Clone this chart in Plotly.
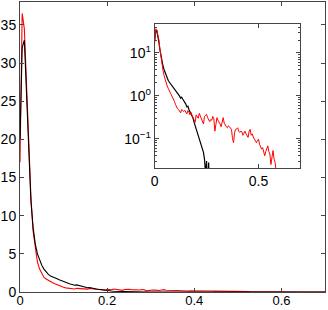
import numpy as np
import plotly.graph_objects as go

# bin positions (x), 0 to 0.7 in steps of 0.005
x_bins = np.round(np.arange(0, 0.7001, 0.005), 3)

red_values = [
    17.0, 36.5, 34.5, 27.0, 20.5, 12.5, 8.0, 5.9, 3.9, 3.0,
    2.35, 1.9, 1.7, 1.5, 1.35, 1.2, 1.08, 0.95, 0.85, 0.74,
    0.63, 0.54, 0.50, 0.48, 0.43, 0.40, 0.48, 0.44, 0.43, 0.46,
    0.40, 0.38, 0.45, 0.42, 0.36, 0.41, 0.35, 0.30, 0.27, 0.24,
    0.36, 0.32, 0.30, 0.39, 0.33, 0.30, 0.24, 0.22, 0.33, 0.36,
    0.37, 0.31, 0.28, 0.25, 0.28, 0.27, 0.33, 0.29, 0.15, 0.20,
    0.31, 0.27, 0.25, 0.22, 0.19, 0.27, 0.31, 0.23, 0.20, 0.19,
    0.18, 0.20, 0.19, 0.17, 0.165, 0.10, 0.081, 0.14, 0.165, 0.17,
    0.18, 0.15, 0.14, 0.15, 0.145, 0.12, 0.14, 0.15, 0.13, 0.12,
    0.107, 0.15, 0.165, 0.12, 0.13, 0.11, 0.098, 0.09, 0.081, 0.09,
    0.098, 0.074, 0.062, 0.057, 0.062, 0.05, 0.040, 0.05, 0.057, 0.068,
    0.05, 0.044, 0.025, 0.045, 0.053, 0.034, 0.028, 0.018, 0.012, 0.010,
    0.012, 0.008, 0.010, 0.007, 0.009, 0.006, 0.008, 0.005, 0.007, 0.006,
    0.005, 0.006, 0.004, 0.005, 0.004, 0.003, 0.004, 0.003, 0.002, 0.003,
    0.002,
]

black_values = [
    20.0, 32.0, 33.0, 26.0, 18.0, 12.0, 8.5, 6.3, 5.0, 4.1,
    3.5, 3.0, 2.6, 2.3, 2.1, 1.95, 1.85, 1.75, 1.62, 1.5,
    1.38, 1.22, 1.15, 1.06, 0.98, 0.88, 0.93, 0.84, 0.78, 0.70,
    0.64, 0.55, 0.57, 0.48, 0.43, 0.40, 0.35, 0.30, 0.24, 0.20,
    0.18, 0.15, 0.13, 0.10, 0.088, 0.07, 0.058, 0.048, 0.033, 0.015,
    0.03, 0.005, 0.028, 0.004, 0, 0, 0, 0, 0, 0,
    0, 0, 0, 0, 0, 0, 0, 0, 0, 0,
    0, 0, 0, 0, 0, 0, 0, 0, 0, 0,
    0, 0, 0, 0, 0, 0, 0, 0, 0, 0,
    0, 0, 0, 0, 0, 0, 0, 0, 0, 0,
    0, 0, 0, 0, 0, 0, 0, 0, 0, 0,
    0, 0, 0, 0, 0, 0, 0, 0, 0, 0,
    0, 0, 0, 0, 0, 0, 0, 0, 0, 0,
    0, 0, 0, 0, 0, 0, 0, 0, 0, 0,
    0,
]

main_xticks = [0, 0.2, 0.4, 0.6]
main_xticktext = ["0", "0.2", "0.4", "0.6"]
main_yticks = [0, 5, 10, 15, 20, 25, 30, 35]
inset_xticks = [0, 0.5]
inset_xticktext = ["0", "0.5"]
inset_yticks = [0.1, 1, 10]
inset_yticktext = ["10<sup>\u22121</sup>", "10<sup>0</sup>", "10<sup>1</sup>"]
inset_yminor = [0.03, 0.04, 0.05, 0.06, 0.07, 0.08, 0.09,
                0.2, 0.3, 0.4, 0.5, 0.6, 0.7, 0.8, 0.9,
                2, 3, 4, 5, 6, 7, 8, 9, 20, 30, 40]

assert len(red_values) == len(x_bins) == len(black_values)

# inset: log scale, drop non-positive values
red_log = [v if v > 0 else None for v in red_values]
black_log = [v if v > 0 else None for v in black_values]

fig = go.Figure()
fig.add_trace(go.Scatter(x=x_bins, y=red_values, mode="lines",
                         line=dict(color="#ff0000", width=1.1), xaxis="x", yaxis="y"))
fig.add_trace(go.Scatter(x=x_bins, y=black_values, mode="lines",
                         line=dict(color="#000000", width=1.1), xaxis="x", yaxis="y"))
fig.add_trace(go.Scatter(x=x_bins, y=black_log, mode="lines",
                         line=dict(color="#000000", width=1.2), xaxis="x2", yaxis="y2"))
fig.add_trace(go.Scatter(x=x_bins, y=red_log, mode="lines",
                         line=dict(color="#ff0000", width=1.0), xaxis="x2", yaxis="y2"))

axis_common = dict(showline=True, linecolor="#444444", linewidth=1, mirror="ticks",
                   ticks="inside", ticklen=4, tickcolor="#444444", showgrid=False,
                   zeroline=False, automargin=False)

fig.update_layout(
    width=328, height=310,
    margin=dict(l=20, r=3, t=2, b=18),
    paper_bgcolor="white", plot_bgcolor="white",
    showlegend=False,
    font=dict(family="Liberation Sans, Arial, sans-serif", size=14, color="black"),
    xaxis=dict(domain=[0, 1], range=[0, 0.7], tickmode="array",
               tickvals=main_xticks, ticktext=main_xticktext, anchor="y",
               ticklabelstandoff=-4, tickfont=dict(size=13, color="black"), **axis_common),
    yaxis=dict(domain=[0, 1], range=[0, 38], tickmode="array",
               tickvals=main_yticks, anchor="x",
               tickfont=dict(size=14, color="black"), **axis_common),
    xaxis2=dict(domain=[0.4416, 0.918], range=[0, 0.7], tickmode="array",
                tickvals=inset_xticks, ticktext=inset_xticktext, anchor="y2",
                tickfont=dict(size=14, color="black"), **axis_common),
    yaxis2=dict(domain=[0.428, 0.925], type="log", range=[-1.68, 1.68], tickmode="array",
                tickvals=inset_yticks, ticktext=inset_yticktext, anchor="x2",
                tickfont=dict(size=14, color="black"),
                minor=dict(tickmode="array", tickvals=inset_yminor, ticks="inside",
                           ticklen=2, tickcolor="#444444", showgrid=False),
                **axis_common),
)

fig.write_html("out.html", config={"displayModeBar": False},
               post_script="document.body.style.margin='0';document.body.style.padding='0';")
